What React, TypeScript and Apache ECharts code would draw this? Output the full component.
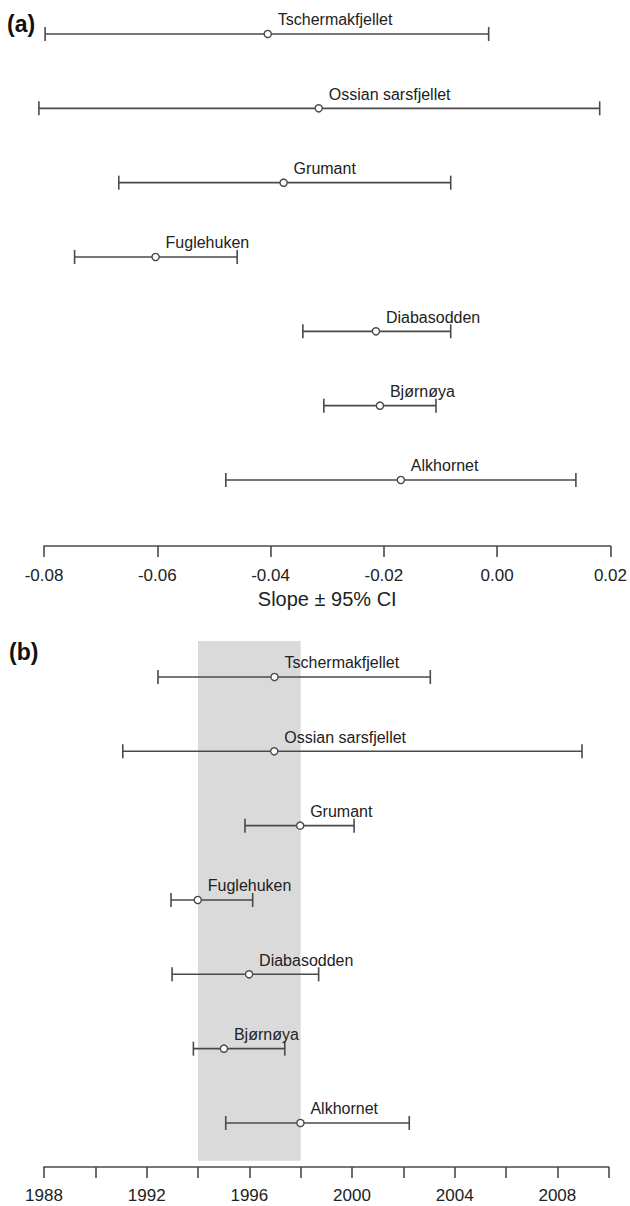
import React, { useEffect, useRef } from "react";
import * as echarts from "echarts";

const sites = ["Tschermakfjellet", "Ossian sarsfjellet", "Grumant", "Fuglehuken", "Diabasodden", "Bjørnøya", "Alkhornet"];
const slopeLo = [-0.0798, -0.0809, -0.0668, -0.0746, -0.0343, -0.0306, -0.0479];
const slopeMid = [-0.0405, -0.0315, -0.0377, -0.0603, -0.0214, -0.0207, -0.0170];
const slopeHi = [-0.0015, 0.0181, -0.0082, -0.0459, -0.0082, -0.0108, 0.0139];
const yearLo = [1992.44, 1991.07, 1995.83, 1992.95, 1992.99, 1993.82, 1995.08];
const yearMid = [1996.98, 1996.97, 1997.98, 1993.99, 1995.99, 1995.01, 1997.99];
const yearHi = [2003.05, 2008.96, 2000.08, 1996.13, 1998.7, 1997.38, 2002.23];
const band = [1994, 1998];
const slopeTicks = { min: -0.08, max: 0.02, interval: 0.02 };
const yearTicks = { min: 1988, max: 2010, interval: 2, labelEvery: 4 };

const LINE = "#4a4a4a";
const TEXT = "#222";
const FONT = '"Liberation Sans", Arial, sans-serif';

function errRender(params: any, api: any) {
  const idx = api.value(0);
  const lo = api.coord([api.value(1), idx]);
  const mid = api.coord([api.value(2), idx]);
  const hi = api.coord([api.value(3), idx]);
  const y = lo[1];
  const name = sites[idx];
  const ls = { stroke: LINE, lineWidth: 1.6 };
  return {
    type: "group",
    children: [
      { type: "line", shape: { x1: lo[0], y1: y, x2: hi[0], y2: y }, style: ls },
      { type: "line", shape: { x1: lo[0], y1: y - 7, x2: lo[0], y2: y + 7 }, style: ls },
      { type: "line", shape: { x1: hi[0], y1: y - 7, x2: hi[0], y2: y + 7 }, style: ls },
      { type: "circle", shape: { cx: mid[0], cy: y, r: 3.6 }, style: { fill: "#fff", stroke: LINE, lineWidth: 1.4 } },
      {
        type: "text",
        x: mid[0] + 10,
        y: y - 14,
        style: { text: name, fill: TEXT, font: `16px ${FONT}`, align: "left", verticalAlign: "middle" },
      },
    ],
  };
}

export default function App() {
  const ref = useRef<HTMLDivElement>(null);
  useEffect(() => {
    document.body.style.margin = "0";
    const chart = echarts.init(ref.current!, null, { renderer: "svg" });
    const topData = sites.map((_, i) => [i, slopeLo[i], slopeMid[i], slopeHi[i]]);
    const botData = sites.map((_, i) => [i, yearLo[i], yearMid[i], yearHi[i]]);
    const axisCommon = {
      type: "value",
      position: "bottom",
      axisLine: { show: true, onZero: false, lineStyle: { color: LINE, width: 1.6 } },
      axisTick: { show: true, length: 11, lineStyle: { color: LINE, width: 1.6 } },
      splitLine: { show: false },
    };
    chart.setOption({
      animation: false,
      backgroundColor: "#fff",
      grid: [
        { left: 44, right: 16.5, top: 11.7, height: 534.3 },
        { left: 44, right: 21.3, top: 641, height: 526 },
      ],
      xAxis: [
        {
          ...axisCommon,
          gridIndex: 0,
          min: slopeTicks.min,
          max: slopeTicks.max,
          interval: slopeTicks.interval,
          name: "Slope ± 95% CI",
          nameLocation: "middle",
          nameGap: 43,
          nameTextStyle: { color: TEXT, fontSize: 20, fontFamily: FONT },
          axisLabel: {
            color: TEXT,
            fontSize: 17,
            fontFamily: FONT,
            margin: 21,
            formatter: (v: number) => (Math.abs(v) < 1e-9 ? "0.00" : v.toFixed(2)),
          },
        },
        {
          ...axisCommon,
          gridIndex: 1,
          min: yearTicks.min,
          max: yearTicks.max,
          interval: yearTicks.interval,
          axisLabel: {
            color: TEXT,
            fontSize: 17,
            fontFamily: FONT,
            margin: 20,
            showMaxLabel: true,
            formatter: (v: number) =>
              (v - yearTicks.min) % yearTicks.labelEvery === 0 && v < yearTicks.max ? String(v) : "",
          },
        },
      ],
      yAxis: [
        { type: "value", gridIndex: 0, show: false, inverse: true, min: -0.3, max: 6.888 },
        { type: "value", gridIndex: 1, show: false, inverse: true, min: -0.484, max: 6.592 },
      ],
      graphic: [
        { type: "text", left: 7, top: 12, style: { text: "(a)", fill: "#111", font: `bold 23px ${FONT}` } },
        { type: "text", left: 9, top: 640, style: { text: "(b)", fill: "#111", font: `bold 23px ${FONT}` } },
      ],
      series: [
        {
          type: "custom",
          xAxisIndex: 1,
          yAxisIndex: 1,
          silent: true,
          data: [[band[0], band[1]]],
          encode: { x: [0, 1] },
          renderItem: (p: any, api: any) => {
            const a = api.coord([api.value(0), -0.484]);
            const b = api.coord([api.value(1), 6.507]);
            return { type: "rect", shape: { x: a[0], y: a[1], width: b[0] - a[0], height: b[1] - a[1] }, style: { fill: "#dadada" } };
          },
        },
        {
          type: "custom",
          xAxisIndex: 0,
          yAxisIndex: 0,
          silent: true,
          clip: false,
          data: topData,
          encode: { x: [1, 2, 3], y: 0 },
          renderItem: errRender,
        },
        {
          type: "custom",
          xAxisIndex: 1,
          yAxisIndex: 1,
          silent: true,
          clip: false,
          data: botData,
          encode: { x: [1, 2, 3], y: 0 },
          renderItem: errRender,
        },
      ],
    });
    return () => chart.dispose();
  }, []);
  return <div ref={ref} style={{ width: 630, height: 1206, position: "absolute", left: 0, top: 0 }} />;
}
